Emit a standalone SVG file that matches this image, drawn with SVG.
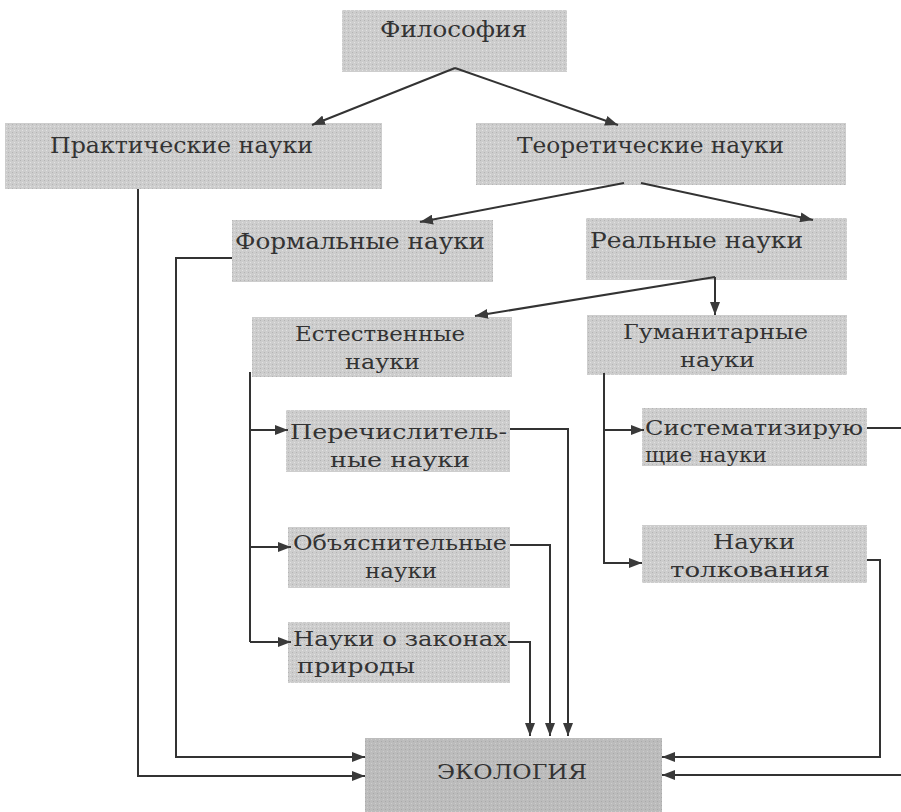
<svg xmlns="http://www.w3.org/2000/svg" width="901" height="812" viewBox="0 0 901 812">
<defs>
<pattern id="stip" width="4" height="4" patternUnits="userSpaceOnUse">
<rect width="4" height="4" fill="#cdcdcd"/>
<rect x="0" y="0" width="1" height="1" fill="#b4b4b4"/>
<rect x="2" y="2" width="1" height="1" fill="#e2e2e2"/>
</pattern>
<pattern id="stip2" width="4" height="4" patternUnits="userSpaceOnUse">
<rect width="4" height="4" fill="#bcbcbc"/>
<rect x="1" y="1" width="1" height="1" fill="#a9a9a9"/>
<rect x="3" y="3" width="1" height="1" fill="#cdcdcd"/>
</pattern>
<marker id="ah" markerUnits="userSpaceOnUse" markerWidth="14" markerHeight="10" refX="13" refY="5" orient="auto">
<path d="M0,0 L13,5 L0,10 z" fill="#3a3a3a"/>
</marker>
</defs>
<style>
.box{fill:url(#stip)}
.eco{fill:url(#stip2)}
text{font-family:"DejaVu Serif","Liberation Serif",serif;font-size:23px;fill:#333}
.s{font-size:21px}
.c{stroke:#333;stroke-width:2;fill:none}
.a{marker-end:url(#ah)}
</style>
<rect width="901" height="812" fill="#ffffff"/>

<g id="filosofiya">
<rect class="box" x="342" y="10" width="225" height="62"/>
<text x="380" y="37" textLength="147" lengthAdjust="spacingAndGlyphs">Философия</text>
</g>
<g id="prakticheskie">
<rect class="box" x="5" y="123" width="377" height="66"/>
<text x="50" y="153" textLength="263" lengthAdjust="spacingAndGlyphs">Практические науки</text>
</g>
<g id="teoreticheskie">
<rect class="box" x="476" y="123" width="370" height="62"/>
<text x="517" y="153" textLength="267" lengthAdjust="spacingAndGlyphs">Теоретические науки</text>
</g>
<g id="formalnye">
<rect class="box" x="232" y="220" width="261" height="62"/>
<text x="235" y="249" textLength="250" lengthAdjust="spacingAndGlyphs">Формальные науки</text>
</g>
<g id="realnye">
<rect class="box" x="586" y="218" width="261" height="62"/>
<text x="590" y="248" textLength="213" lengthAdjust="spacingAndGlyphs">Реальные науки</text>
</g>
<g id="estestvennye">
<rect class="box" x="252" y="317" width="260" height="60"/>
<text class="s" x="295" y="341" textLength="170" lengthAdjust="spacingAndGlyphs">Естественные</text>
<text class="s" x="345" y="369" textLength="75" lengthAdjust="spacingAndGlyphs">науки</text>
</g>
<g id="gumanitarnye">
<rect class="box" x="587" y="315" width="260" height="60"/>
<text class="s" x="623" y="339" textLength="185" lengthAdjust="spacingAndGlyphs">Гуманитарные</text>
<text class="s" x="680" y="367" textLength="75" lengthAdjust="spacingAndGlyphs">науки</text>
</g>
<g id="perechislitelnye">
<rect class="box" x="286" y="410" width="224" height="62"/>
<text class="s" x="290" y="439" textLength="217" lengthAdjust="spacingAndGlyphs">Перечислитель-</text>
<text class="s" x="330" y="467" textLength="140" lengthAdjust="spacingAndGlyphs">ные науки</text>
</g>
<g id="sistematiziruyushchie">
<rect class="box" x="642" y="408" width="225" height="58"/>
<text class="s" x="645" y="435" textLength="218" lengthAdjust="spacingAndGlyphs">Систематизирую</text>
<text class="s" x="645" y="462" textLength="122" lengthAdjust="spacingAndGlyphs">щие науки</text>
</g>
<g id="obyasnitelnye">
<rect class="box" x="288" y="527" width="222" height="61"/>
<text class="s" x="293" y="550" textLength="214" lengthAdjust="spacingAndGlyphs">Объяснительные</text>
<text class="s" x="365" y="578" textLength="72" lengthAdjust="spacingAndGlyphs">науки</text>
</g>
<g id="tolkovaniya">
<rect class="box" x="642" y="525" width="225" height="58"/>
<text class="s" x="713" y="549" textLength="82" lengthAdjust="spacingAndGlyphs">Науки</text>
<text class="s" x="670" y="577" textLength="160" lengthAdjust="spacingAndGlyphs">толкования</text>
</g>
<g id="zakony">
<rect class="box" x="288" y="622" width="222" height="61"/>
<text class="s" x="293" y="646" textLength="214" lengthAdjust="spacingAndGlyphs">Науки о законах</text>
<text class="s" x="297" y="673" textLength="118" lengthAdjust="spacingAndGlyphs">природы</text>
</g>
<g id="ekologiya">
<rect class="eco" x="365" y="738" width="297" height="74"/>
<text x="437" y="779" style="font-size:20px" textLength="150" lengthAdjust="spacingAndGlyphs">ЭКОЛОГИЯ</text>
</g>

<g id="connectors">
<path class="c a" d="M455,68 L312,125"/>
<path class="c a" d="M455,68 L618,125"/>
<path class="c a" d="M624,183 L420,222"/>
<path class="c a" d="M641,183 L813,220"/>
<path class="c a" d="M715,277 L715,315"/>
<path class="c a" d="M715,277 L475,316"/>
<path class="c" d="M250,372 L250,642"/>
<path class="c a" d="M250,430 L288,430"/>
<path class="c a" d="M250,547 L291,547"/>
<path class="c a" d="M250,642 L291,642"/>
<path class="c a" d="M510,429 L568,429 L568,736"/>
<path class="c a" d="M510,545 L550,545 L550,736"/>
<path class="c a" d="M508,642 L530,642 L530,736"/>
<path class="c a" d="M138,189 L138,776 L365,776"/>
<path class="c a" d="M232,258 L176,258 L176,757 L365,757"/>
<path class="c a" d="M604,373 L604,563 L642,563"/>
<path class="c a" d="M604,430 L644,430"/>
<path class="c" d="M867,428 L901,428"/>
<path class="c a" d="M901,775 L662,775"/>
<path class="c a" d="M867,560 L880,560 L880,757 L662,757"/>
</g>
</svg>
